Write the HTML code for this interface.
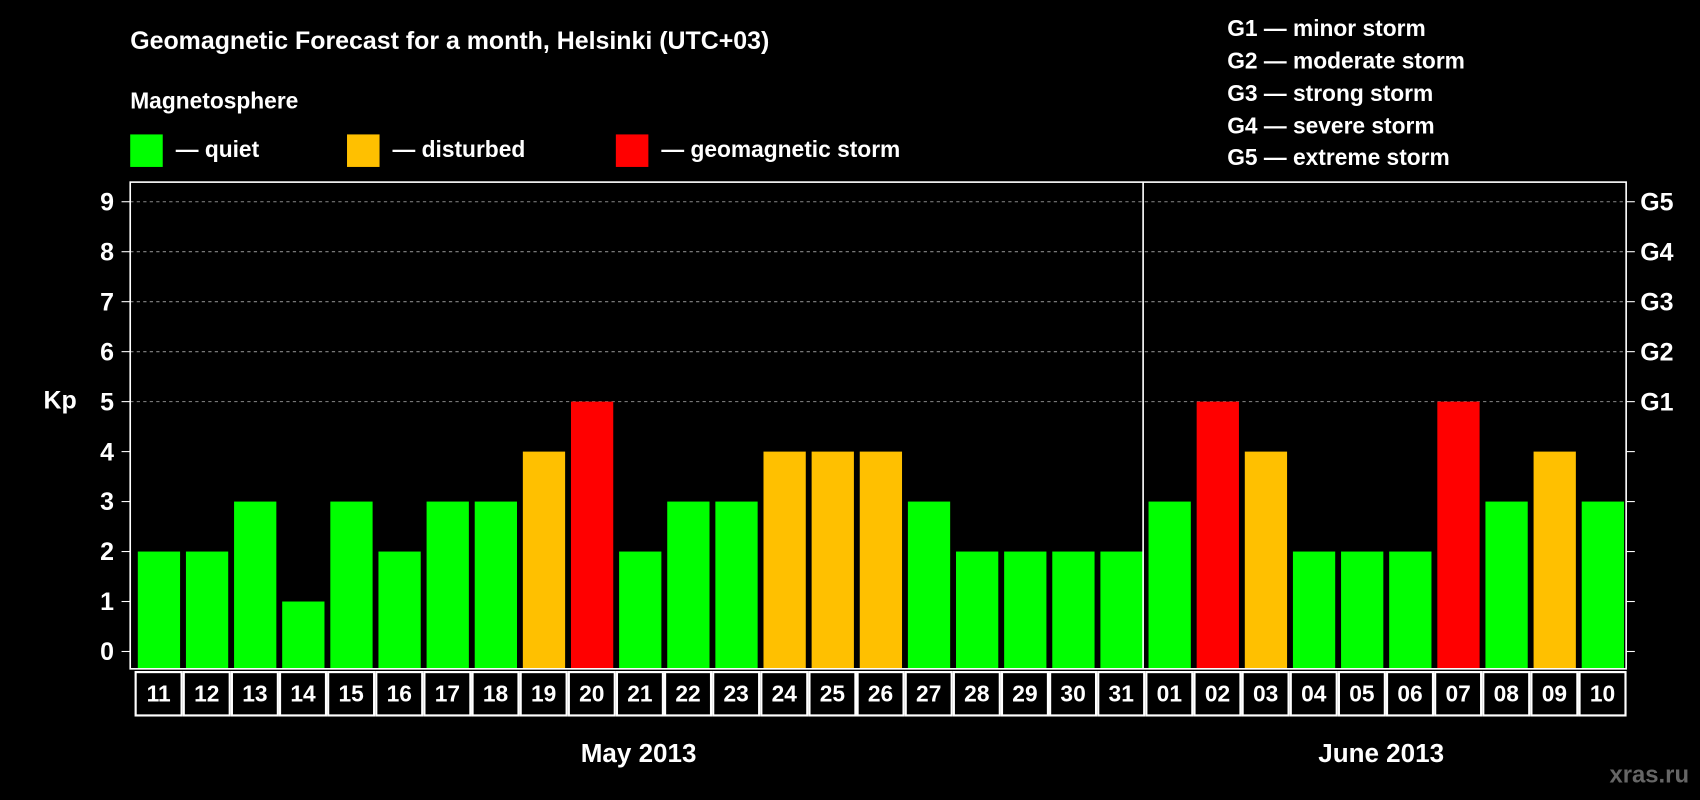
<!DOCTYPE html>
<html><head><meta charset="utf-8"><style>
html,body{margin:0;padding:0;background:#000;}
svg{display:block;font-family:"Liberation Sans",sans-serif;font-weight:bold;}
</style></head><body>
<svg id="chart" width="1700" height="800" viewBox="0 0 1568 738" xmlns="http://www.w3.org/2000/svg">
<rect x="0" y="0" width="1568" height="738" fill="#000"/>
<text x="120" y="45" fill="#fff" font-size="23">Geomagnetic Forecast for a month, Helsinki (UTC+03)</text>
<text x="120" y="100" fill="#fff" font-size="21">Magnetosphere</text>
<g><rect x="120" y="124" width="30" height="30" fill="#00ff00"/><text x="162" y="145" fill="#fff" font-size="21">— quiet</text></g>
<g><rect x="320" y="124" width="30" height="30" fill="#ffc000"/><text x="362" y="145" fill="#fff" font-size="21">— disturbed</text></g>
<g><rect x="568" y="124" width="30" height="30" fill="#ff0000"/><text x="610" y="145" fill="#fff" font-size="21">— geomagnetic storm</text></g>
<g fill="#fff" font-size="21">
<text x="1132" y="33">G1 — minor storm</text><text x="1132" y="63">G2 — moderate storm</text><text x="1132" y="93">G3 — strong storm</text><text x="1132" y="123">G4 — severe storm</text><text x="1132" y="152">G5 — extreme storm</text>
</g>
<text x="40" y="377" fill="#fff" font-size="23">Kp</text>
<g id="grid"></g><g id="bars"></g><g id="axes"></g>
<text x="589" y="703" fill="#fff" font-size="24" text-anchor="middle">May 2013</text>
<text x="1274" y="703" fill="#fff" font-size="24" text-anchor="middle">June 2013</text>
<text x="1558" y="722" fill="#666" font-size="22" text-anchor="end">xras.ru</text>
</svg>
<script>
const days = ["11","12","13","14","15","16","17","18","19","20","21","22","23","24","25","26","27","28","29","30","31","01","02","03","04","05","06","07","08","09","10"];
const kpValues = [2,2,3,1,3,2,3,3,4,5,2,3,3,4,4,4,3,2,2,2,2,3,5,4,2,2,2,5,3,4,3];
const yTicks = [0,1,2,3,4,5,6,7,8,9];
const gLabels = ["","","","","","G1","G2","G3","G4","G5"];
const NS="http://www.w3.org/2000/svg";
const x0=122, slot=44.4, y0=601, unit=46.1;
const xs=i=>x0+i*slot;
const ys=v=>y0-v*unit;
function mk(tag,attrs,parent,txt){const e=document.createElementNS(NS,tag);for(const k in attrs)e.setAttribute(k,attrs[k]);if(txt!==undefined)e.textContent=txt;parent.appendChild(e);return e;}
const grid=document.getElementById('grid'),bars=document.getElementById('bars'),axes=document.getElementById('axes');
yTicks.forEach((t,i)=>{
  const y=ys(t);
  if(t>=5){const l=mk('line',{x1:120,x2:1500,y1:y,y2:y,stroke:'#888','stroke-dasharray':'3,3','stroke-width':1},grid);
    
    }
  const a=mk('line',{x1:112,x2:120,y1:y,y2:y,stroke:'#fff'},axes);
  
  
  const b=mk('line',{x1:1500,x2:1508,y1:y,y2:y,stroke:'#fff'},axes);
  
  
  const tl=mk('text',{x:105,y:y+8,fill:'#fff','font-size':23,'text-anchor':'end'},axes,String(t));
  
  
  if(gLabels[i]){const g=mk('text',{x:1513,y:y+8,fill:'#fff','font-size':23},axes,gLabels[i]);
    
    }
});
kpValues.forEach((v,i)=>{
  const c=v>=5?'#ff0000':(v>=4?'#ffc000':'#00ff00');
  const r=mk('rect',{x:xs(i)+5,y:ys(v),width:39,height:ys(0)-ys(v)+16,fill:c},bars);
  
  
  const bx=mk('rect',{x:xs(i)+3,y:620,width:slot-2,height:40,fill:'none',stroke:'#fff','stroke-width':2},axes);
  
  
  const t=mk('text',{x:xs(i)+slot/2+2,y:647,fill:'#fff','font-size':21,'text-anchor':'middle'},axes,days[i]);
  
  
});
const fr=mk('rect',{x:120,y:168,width:1380,height:449,fill:'none',stroke:'#fff','stroke-width':1.5},axes);


const dv=mk('line',{x1:xs(21),x2:xs(21),y1:168,y2:617,stroke:'#fff','stroke-width':1.5},axes);


</script>
</body></html>
